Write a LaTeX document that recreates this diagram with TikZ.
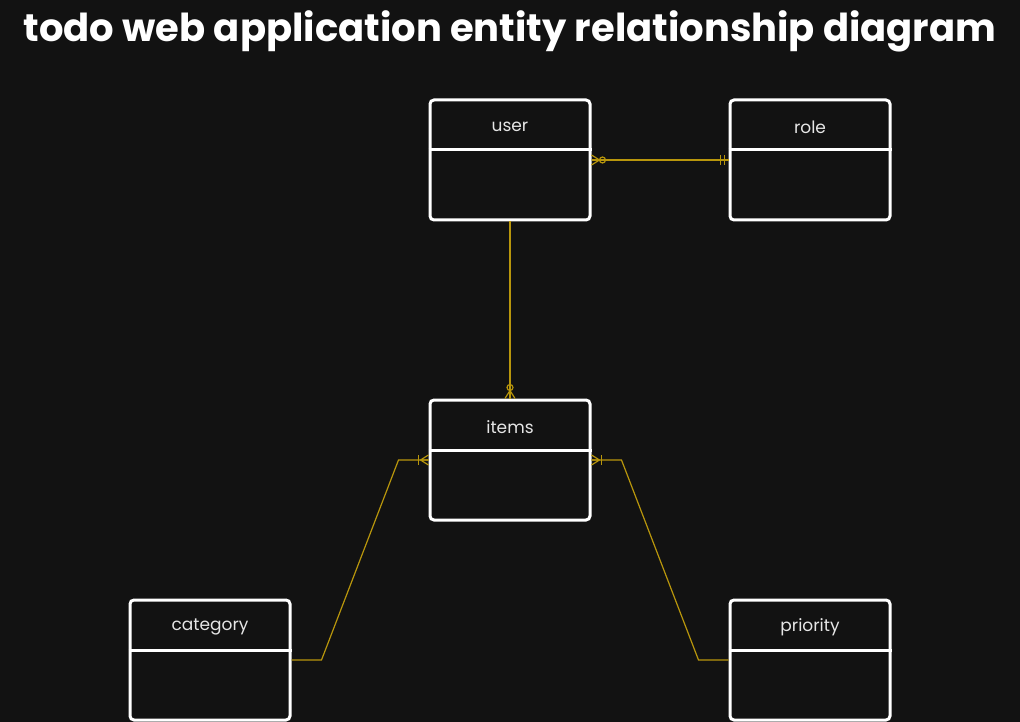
\documentclass[tikz,border=0pt]{standalone}
\usepackage{fontspec}
\setmainfont{Poppins}
\definecolor{bg}{HTML}{121212}
\definecolor{rel}{RGB}{184,150,12}
\definecolor{ink}{HTML}{E6E6E6}
\tikzset{
  entity/.style={draw=white,line width=3pt,rounded corners=4pt,minimum width=160pt,minimum height=120pt},
  relline/.style={draw=rel,line width=1.2pt},
  zeromany/.pic={
    \draw[rel,line width=1.2pt] (0,-5) -- (8,0) (0,0) -- (8,0) (0,5) -- (8,0);
    \draw[rel,line width=1.2pt] (11,0) circle (3);
  },
  onemany/.pic={
    \draw[rel,line width=1.2pt] (0,-5) -- (8,0) (0,0) -- (8,0) (0,5) -- (8,0);
    \draw[rel,line width=1.2pt] (10,-5) -- (10,5);
  },
  oneone/.pic={
    \draw[rel,line width=1.2pt] (4,-5) -- (4,5) (8,-5) -- (8,5);
  }
}
\begin{document}
\begin{tikzpicture}[x=1pt,y=-1pt]
\useasboundingbox[fill=bg] (0,0) rectangle (1020,722);
% title
\node[text=white,font=\fontsize{38.5}{42}\selectfont\bfseries] (title) at (510,31) {todo web application entity relationship diagram};
% entities
\foreach \name/\x/\y in {
  user/510/160,
  role/810/160,
  items/510/460,
  category/210/660,
  priority/810/660
}{
  \node[entity] (\name) at (\x,\y) {};
  \draw[white,line width=3pt] ([yshift=10pt]\name.west) -- ([yshift=10pt]\name.east);
  \node[text=ink,font=\fontsize{17}{19}\selectfont] (\name-label) at ([yshift=33pt]\name.center) {\name};
}
% relations
\draw[relline] (user.east) -- (role.west);
\draw[relline] (user.south) -- (items.north);
\draw[relline] (items.west) -- ++(-30,0) -- ([xshift=30pt]category.east) -- (category.east);
\draw[relline] (items.east) -- ++(30,0) -- ([xshift=-30pt]priority.west) -- (priority.west);
% cardinality
\pic[rotate=0] at (user.east) {zeromany};
\pic[rotate=180] at (role.west) {oneone};
\pic[rotate=90] at (items.north) {zeromany};
\pic[rotate=180] at (items.west) {onemany};
\pic[rotate=0] at (items.east) {onemany};
\end{tikzpicture}
\end{document}
